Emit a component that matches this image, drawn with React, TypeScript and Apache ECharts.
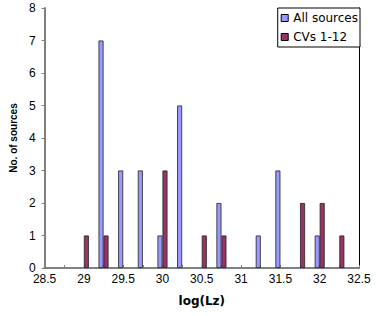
import React, { useEffect, useRef } from "react";
import * as echarts from "echarts";

const categories = ["28.5","28.75","29","29.25","29.5","29.75","30","30.25","30.5","30.75","31","31.25","31.5","31.75","32","32.25","32.5"];
const allSources = [0,0,0,7,3,3,1,5,0,2,0,1,3,0,1,0,0];
const cvs = [0,0,1,1,0,0,3,0,1,1,0,0,0,2,2,1,0];
const seriesNames = ["All sources", "CVs 1-12"];
const yMin = 0;
const yMax = 8;
const yStep = 1;

const toBars = (arr: number[]) => arr.map((v) => (v === 0 ? "-" : v));

export default function App() {
  const ref = useRef<HTMLDivElement>(null);
  useEffect(() => {
    document.body.style.margin = "0";
    if (!ref.current) return;
    const chart = echarts.init(ref.current, undefined, { renderer: "svg" });
    const font = "'Liberation Sans', Arial, sans-serif";
    chart.setOption({
      animation: false,
      backgroundColor: "#fff",
      grid: { left: 34, right: 17, top: 8, bottom: 48, containLabel: false },
      legend: {
        orient: "vertical",
        right: 16,
        top: 8,
        padding: [4, 2, 4, 3],
        itemGap: 7,
        itemWidth: 7,
        itemHeight: 7,
        icon: "rect",
        backgroundColor: "#fff",
        borderColor: "#000",
        borderWidth: 1,
        itemStyle: { borderColor: "#000", borderWidth: 1 },
        textStyle: { fontFamily: "'DejaVu Sans', sans-serif", fontSize: 12, color: "#000" },
        data: seriesNames,
        z: 10,
      },
      xAxis: [
        {
          type: "category",
          data: categories,
          boundaryGap: false,
          position: "bottom",
          axisLine: { show: true, lineStyle: { color: "#808080", width: 2 } },
          axisTick: { show: true, interval: 0, inside: true, length: 3, lineStyle: { color: "#808080", width: 1 } },
          axisLabel: {
            interval: (i: number) => i % 2 === 0,
            fontFamily: font,
            fontSize: 12,
            lineHeight: 12,
            color: "#000",
            margin: 5,
          },
          splitLine: { show: false },
          name: "log(Lz)",
          nameLocation: "middle",
          nameGap: 27,
          nameTextStyle: { fontFamily: "'DejaVu Sans', sans-serif", fontWeight: "bold", fontSize: 12, color: "#000" },
        },
        {
          type: "category",
          data: categories,
          boundaryGap: false,
          position: "top",
          axisLine: { show: true, lineStyle: { color: "#808080", width: 2 } },
          axisTick: { show: false },
          axisLabel: { show: false },
          splitLine: { show: false },
        },
      ],
      yAxis: [
        {
          type: "value",
          min: yMin,
          max: yMax,
          interval: yStep,
          position: "left",
          axisLine: { show: true, lineStyle: { color: "#808080", width: 2 } },
          axisTick: { show: true, length: 3, lineStyle: { color: "#808080", width: 1 } },
          axisLabel: { fontFamily: font, fontSize: 12, lineHeight: 10, color: "#000", margin: 9 },
          splitLine: { show: false },
          name: "No. of sources",
          nameLocation: "middle",
          nameGap: 24,
          nameRotate: 90,
          nameTextStyle: { fontFamily: font, fontWeight: "bold", fontSize: 10, color: "#000" },
        },
        {
          type: "value",
          min: yMin,
          max: yMax,
          interval: yStep,
          position: "right",
          axisLine: { show: true, lineStyle: { color: "#000", width: 1 } },
          axisTick: { show: false },
          axisLabel: { show: false },
          splitLine: { show: false },
        },
      ],
      series: [
        {
          name: seriesNames[0],
          type: "bar",
          data: toBars(allSources),
          barWidth: 5,
          barGap: "0%",
          itemStyle: { color: "#9999FF", borderColor: "#222", borderWidth: 0.8 },
        },
        {
          name: seriesNames[1],
          type: "bar",
          data: toBars(cvs),
          barWidth: 5,
          barGap: "0%",
          itemStyle: { color: "#993366", borderColor: "#222", borderWidth: 0.8 },
        },
      ],
    });
    return () => chart.dispose();
  }, []);
  return <div ref={ref} style={{ position: "fixed", left: 0, top: 0, width: 376, height: 316 }} />;
}
